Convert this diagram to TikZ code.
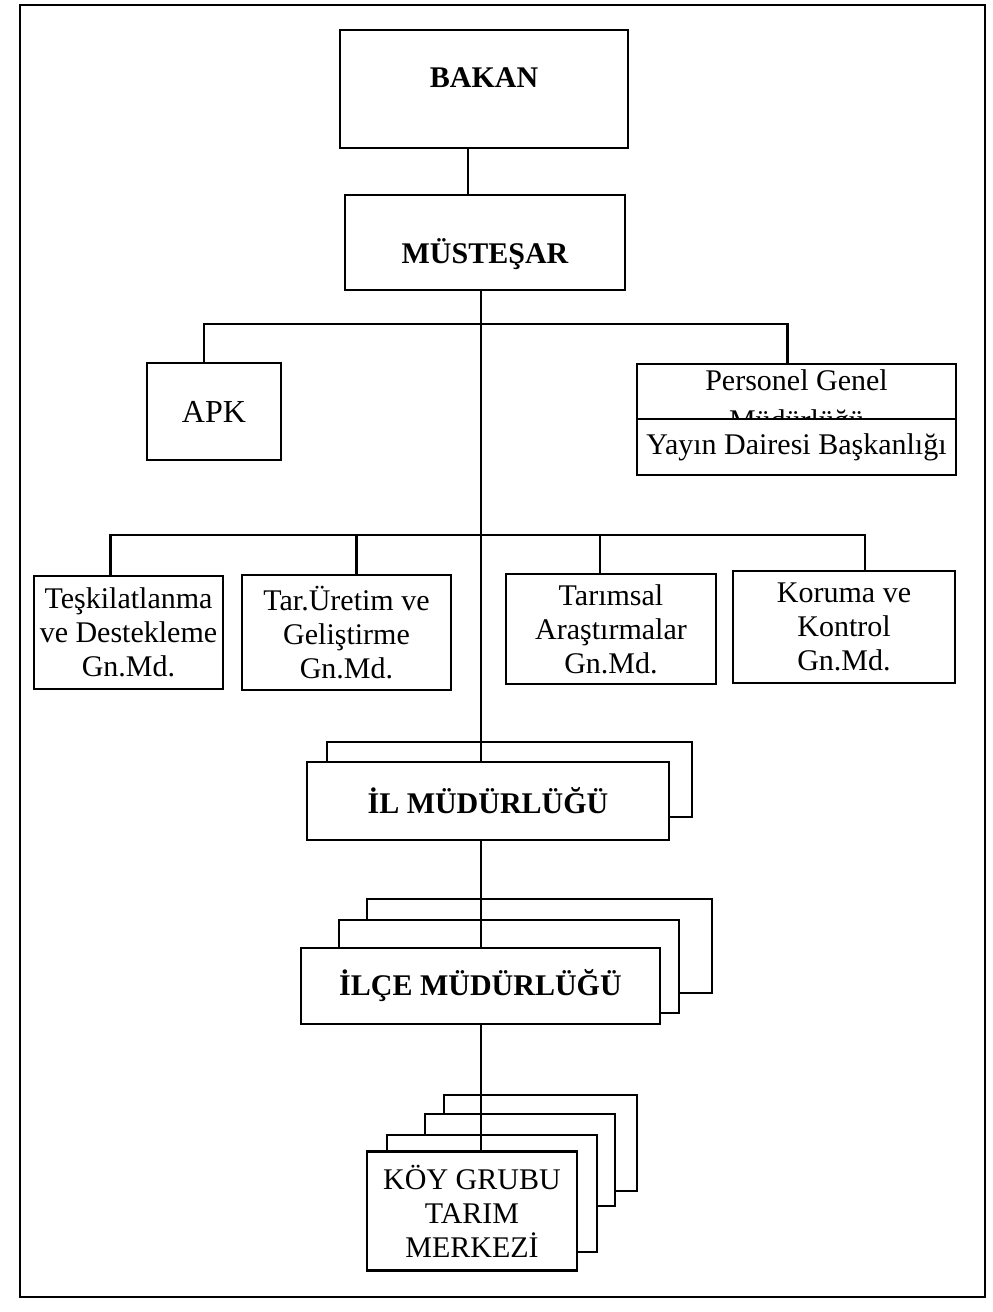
\documentclass[tikz,border=0pt]{standalone}
\usepackage{fontspec}
\setmainfont{Liberation Serif}
\usetikzlibrary{positioning,calc}

\tikzset{
  box/.style={draw, line width=1.1pt, fill=white, inner sep=0pt, align=center,
    font=\fontsize{15}{17}\selectfont},
  headbox/.style={box, font=\fontsize{15}{17}\selectfont\bfseries},
  backbox/.style={draw, line width=1.1pt, fill=white},
  link/.style={line width=1.1pt},
  trunkline/.style={line width=1.3pt},
}

\begin{document}
\begin{tikzpicture}[x=0.5pt, y=-0.5pt]
    \useasboundingbox (0,0) rectangle (992,1312);

    % Frame
    \draw[line width=0.8pt] (20,5) rectangle (985,1297);

    % Top
    \node[headbox, minimum width=144pt, minimum height=59pt, text depth=11pt] (bakan) at (484,89) {BAKAN};
    \node[headbox, minimum width=140pt, minimum height=47.5pt, text height=21pt, text depth=0pt] (mus) at (485,242.5) {MÜSTEŞAR};

    % Staff units
    \node[box, font=\fontsize{16}{18}\selectfont, minimum width=67pt, minimum height=48.5pt] (apk) at (214,411.5) {APK};
    \node[box, font=\fontsize{15}{20}\selectfont, minimum width=159.5pt, minimum height=39pt] (pgm) at (796.5,403) {Personel Genel\\Müdürlüğü};
    \node[box, minimum width=159.5pt, minimum height=28pt] (yay) at (796.5,447) {Yayın Dairesi Başkanlığı};

    % General directorates
    \node[box, minimum width=94.5pt, minimum height=56.5pt] (tes) at (128.5,632.5) {Teşkilatlanma\\ve Destekleme\\Gn.Md.};
    \node[box, minimum width=104.5pt, minimum height=57.5pt] (ure) at (346.5,632.5) {Tar.Üretim ve\\Geliştirme\\Gn.Md.};
    \node[box, minimum width=105pt, minimum height=55pt] (tar) at (611,629) {Tarımsal\\Araştırmalar\\Gn.Md.};
    \node[box, minimum width=111pt, minimum height=56pt] (kor) at (844,627) {Koruma ve\\Kontrol\\Gn.Md.};

    % Il
    \draw[backbox] (327,742) rectangle (692,817);
    \node[headbox, minimum width=181pt, minimum height=39pt] (il) at (488,801) {İL MÜDÜRLÜĞÜ};

    % Ilce
    \draw[backbox] (367,899) rectangle (712,993);
    \draw[backbox] (339,920) rectangle (679,1013);
    \node[headbox, minimum width=179.5pt, minimum height=38pt] (ilce) at (480.5,986) {İLÇE MÜDÜRLÜĞÜ};

    % Koy
    \draw[backbox] (444,1095) rectangle (637,1191);
    \draw[backbox] (425,1114) rectangle (615,1206);
    \draw[backbox] (387,1135) rectangle (597,1252);
    \node[box, minimum width=105pt, minimum height=59.5pt] (koy) at (472,1211) {KÖY GRUBU\\TARIM\\MERKEZİ};

    % Connectors
    \coordinate (trunk) at (481,0);
    \coordinate (bus1) at (481,324);
    \coordinate (bus2) at (481,535);
    \draw[link] ([xshift=-8pt]bakan.south) -- ([xshift=-8pt]bakan.south |- mus.north);
    \draw[trunkline] (mus.south -| trunk) -- (il.north -| trunk);
    \draw[trunkline] (il.south -| trunk) -- (ilce.north -| trunk);
    \draw[trunkline] (ilce.south -| trunk) -- (koy.north -| trunk);
    \draw[link] ([xshift=-5pt]apk.north) |- (bus1) -| ([xshift=-4.5pt]pgm.north);
    \draw[link] ([xshift=-9pt]tes.north) |- (bus2) -| ([xshift=10.5pt]kor.north);
    \draw[link] ([xshift=5pt]ure.north) -- ([xshift=5pt]ure.north |- bus2);
    \draw[link] ([xshift=-5.5pt]tar.north) -- ([xshift=-5.5pt]tar.north |- bus2);
\end{tikzpicture}
\end{document}
